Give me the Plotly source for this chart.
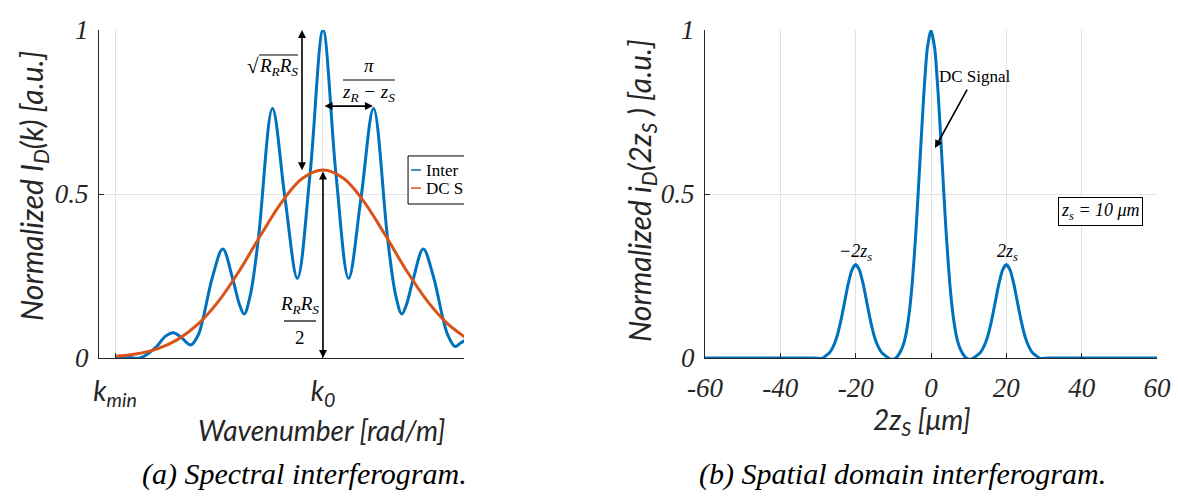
import plotly.graph_objects as go

# ---------------- data ----------------
# (a) spectral interferogram: k normalised so that k_min = 0, k_0 = 1
k_interf = [0.00, 0.06, 0.12, 0.20, 0.24, 0.28, 0.32, 0.364, 0.40, 0.423, 0.47, 0.518, 0.567,
            0.60, 0.621, 0.65, 0.689, 0.757, 0.817, 0.877, 0.938, 1.00, 1.062, 1.123, 1.183,
            1.243, 1.311, 1.35, 1.379, 1.40, 1.433, 1.482, 1.53, 1.577, 1.60, 1.635, 1.66, 1.70]
i_interf = [0.004, 0.003, 0.000, 0.035, 0.065, 0.077, 0.062, 0.040, 0.070, 0.120, 0.250, 0.332, 0.238,
            0.160, 0.134, 0.190, 0.362, 0.761, 0.489, 0.243, 0.563, 1.000, 0.563, 0.243, 0.489,
            0.761, 0.362, 0.190, 0.134, 0.160, 0.238, 0.332, 0.250, 0.120, 0.070, 0.035, 0.045, 0.060]

k_dc = [0.00, 0.10, 0.20, 0.30, 0.40, 0.50, 0.60, 0.70, 0.80, 0.90, 1.00,
        1.10, 1.20, 1.30, 1.40, 1.50, 1.60, 1.70]
i_dc = [0.005, 0.012, 0.027, 0.056, 0.104, 0.175, 0.268, 0.374, 0.474, 0.547, 0.573,
        0.547, 0.474, 0.374, 0.268, 0.175, 0.104, 0.056]

k_ticks = [0, 1]
k_ticktext = ["k<sub>min</sub>", "k<sub>0</sub>"]

# (b) spatial domain interferogram
z_pos = [-60, -40, -32, -31, -30, -29, -28, -27, -26, -25, -24, -23, -22, -21, -20, -19, -18, -17,
         -16, -15, -14, -13, -12, -11, -10, -9, -8, -7, -6, -5, -4, -3, -2, -1, 0,
         1, 2, 3, 4, 5, 6, 7, 8, 9, 10, 11, 12, 13, 14, 15, 16, 17, 18, 19, 20,
         21, 22, 23, 24, 25, 26, 27, 28, 29, 30, 31, 32, 40, 60]
i_spatial = [0.0, 0.0, 0.0, 0.0, -0.001, -0.001, 0.006, 0.015, 0.034, 0.064, 0.110, 0.167, 0.225, 0.268, 0.285,
             0.268, 0.225, 0.167, 0.110, 0.064, 0.034, 0.015, 0.006, -0.002, -0.004, 0.004, 0.022, 0.054,
             0.118, 0.226, 0.386, 0.586, 0.788, 0.942, 1.000,
             0.942, 0.788, 0.586, 0.386, 0.226, 0.118, 0.054, 0.022, 0.004, -0.004, -0.002, 0.006, 0.015,
             0.034, 0.064, 0.110, 0.167, 0.225, 0.268, 0.285, 0.268, 0.225, 0.167, 0.110, 0.064, 0.034,
             0.015, 0.006, -0.001, -0.001, 0.0, 0.0, 0.0, 0.0]
z_ticks = [-60, -40, -20, 0, 20, 40, 60]
z_ticktext = ["-60", "-40", "-20", "0", "20", "40", "60"]
y_ticks = [0, 0.5, 1]
y_ticktext = ["0", "0.5", "1"]

BLUE = "#0072BD"
ORANGE = "#D95319"
AX = "#262626"
GRID = "#e3e3e3"
SANS = "Lato"
SERIF = "Liberation Serif"

W, H = 1178, 497


def px(x):
    return x / W


def py(y):
    return 1 - y / H


# pixel -> data helpers for annotation placement only
def kx(p):
    return 1 + (p - 323) / 208


def vy(p):
    return (358 - p) / 328


fig = go.Figure()
fig.add_trace(go.Scatter(x=k_interf, y=i_interf, mode="lines", name="Interference",
                         line=dict(color=BLUE, width=3, shape="spline", smoothing=1.0),
                         xaxis="x", yaxis="y", showlegend=False))
fig.add_trace(go.Scatter(x=k_dc, y=i_dc, mode="lines", name="DC Signal",
                         line=dict(color=ORANGE, width=3, shape="spline", smoothing=1.0),
                         xaxis="x", yaxis="y", showlegend=False))
fig.add_trace(go.Scatter(x=z_pos, y=i_spatial, mode="lines", name="i_D",
                         line=dict(color=BLUE, width=3, shape="spline", smoothing=0.6),
                         xaxis="x2", yaxis="y2", showlegend=False))

ydom = [py(358), py(30)]
axis_common = dict(showline=True, linecolor=AX, linewidth=1.3, ticks="inside", ticklen=5,
                   tickcolor=AX, showgrid=True, gridcolor=GRID, gridwidth=1, zeroline=False,
                   mirror=False, automargin=False)

fig.update_layout(
    width=W, height=H, margin=dict(l=0, r=0, t=0, b=0, pad=0, autoexpand=False),
    paper_bgcolor="white", plot_bgcolor="white", showlegend=False,
    xaxis=dict(domain=[px(99), px(464)], range=[-0.077, 1.678], anchor="y",
               tickvals=k_ticks, ticktext=k_ticktext,
               tickfont=dict(family=SANS, size=28, color=AX, style="italic"),
               ticklabelstandoff=8, **axis_common),
    yaxis=dict(domain=ydom, range=[0, 1], anchor="x", tickvals=y_ticks, ticktext=y_ticktext,
               tickfont=dict(family=SERIF, size=27, color=AX, style="italic"),
               ticklabelstandoff=4, **axis_common),
    xaxis2=dict(domain=[px(705), px(1157)], range=[-60, 60], anchor="y2", tickvals=z_ticks,
                ticktext=z_ticktext,
                tickfont=dict(family=SERIF, size=27, color=AX, style="italic"),
                ticklabelstandoff=5, **axis_common),
    yaxis2=dict(domain=ydom, range=[0, 1], anchor="x2", tickvals=y_ticks, ticktext=y_ticktext,
                tickfont=dict(family=SERIF, size=27, color=AX, style="italic"),
                ticklabelstandoff=4, **axis_common),
)


def paper_text(text, x, y, font, angle=0):
    return dict(text=text, xref="paper", yref="paper", x=px(x), y=py(y), xanchor="center",
                yanchor="middle", textangle=angle, showarrow=False, font=font)


def data_text(text, x, y, xr, yr, font, xanchor="center", **kw):
    d = dict(text=text, x=x, y=y, xref=xr, yref=yr, xanchor=xanchor, yanchor="middle",
             showarrow=False, font=font)
    d.update(kw)
    return d


def arrow(x, y, ax, ay, xr, yr, both=True):
    return dict(x=x, y=y, ax=ax, ay=ay, xref=xr, yref=yr, axref=xr, ayref=yr, text="",
                showarrow=True, arrowhead=2, arrowside="end+start" if both else "end",
                arrowsize=1, arrowwidth=1.6, arrowcolor="black")


TITLE = dict(family=SANS, size=28, color=AX, style="italic")
YTITLE = dict(family=SANS, size=30, color=AX, style="italic")
CAP = dict(family=SERIF, size=30, color="black", style="italic")
MATH = dict(family=SERIF, size=19, color="black")
MATH_I = dict(family=SERIF, size=19, color="black", style="italic")
SMALL_I = dict(family=SERIF, size=18, color="black", style="italic")

ann = [
    # axis titles
    paper_text("Wavenumber [rad/m]", 322, 430, TITLE),
    paper_text("Normalized I<sub>D</sub>(k) [a.u.]", 33, 186, YTITLE, -90),
    paper_text("2z<sub>S</sub> [μm]", 922, 421, TITLE),
    paper_text("Normalized i<sub>D</sub>(2z<sub>S</sub> ) [a.u.]", 641, 191, YTITLE, -90),
    # captions
    paper_text("(a) Spectral interferogram.", 304, 474, CAP),
    paper_text("(b) Spatial domain interferogram.", 902, 474, CAP),
    # (a) arrows
    arrow(kx(302), 1.0, kx(302), 0.568, "x", "y"),
    arrow(1.0, 0.0, 1.0, 0.573, "x", "y"),
    arrow(1.24, 0.768, 1.0, 0.768, "x", "y"),
    # (a) labels
    data_text("√", kx(253), vy(66), "x", "y", dict(family=SERIF, size=21, color="black")),
    data_text("R<sub>R</sub>R<sub>S</sub>", kx(278), vy(67), "x", "y", MATH_I),
    data_text("π", kx(369), vy(66), "x", "y", MATH_I),
    data_text("z<sub>R</sub> − z<sub>S</sub>", kx(369), vy(93), "x", "y", MATH_I),
    data_text("R<sub>R</sub>R<sub>S</sub>", kx(300), vy(305), "x", "y", MATH_I),
    data_text("2", kx(300), vy(337), "x", "y", MATH),
    # legend text (legend is cut off at the right edge in the original)
    data_text("Inter", 1.486, 0.573, "x", "y", dict(family=SERIF, size=17, color="black"),
              xanchor="left"),
    data_text("DC S", 1.486, 0.518, "x", "y", dict(family=SERIF, size=17, color="black"),
              xanchor="left"),
    # (b) labels
    data_text("z<sub>R</sub> = 0", 0, 1.046, "x2", "y2", SMALL_I),
    data_text("DC Signal", 11.7, 0.857, "x2", "y2", dict(family=SERIF, size=17, color="black")),
    arrow(1.06, 0.64, 9.8, 0.823, "x2", "y2", both=False),
    data_text("−2z<sub>s</sub>", -20, 0.322, "x2", "y2", SMALL_I),
    data_text("2z<sub>s</sub>", 20.3, 0.322, "x2", "y2", SMALL_I),
    data_text("z<sub>s</sub> = 10 μm", 45.1, 0.448, "x2", "y2", SMALL_I,
              bordercolor="black", borderwidth=1, borderpad=2, bgcolor="white"),
]
fig.update_layout(annotations=ann)

shapes = [
    # square-root overline
    dict(type="line", xref="x", yref="y", x0=kx(259), x1=kx(298), y0=vy(55), y1=vy(55),
         line=dict(color="black", width=1.2)),
    # fraction bars
    dict(type="line", xref="x", yref="y", x0=kx(343), x1=kx(395), y0=vy(80), y1=vy(80),
         line=dict(color="black", width=1.2)),
    dict(type="line", xref="x", yref="y", x0=kx(284), x1=kx(316), y0=vy(321), y1=vy(321),
         line=dict(color="black", width=1.2)),
    # legend box (clipped by the plot area like the original)
    dict(type="rect", xref="x", yref="y", x0=1.409, x1=1.90, y0=0.4695, y1=0.616,
         line=dict(color="black", width=1), fillcolor="white", layer="above"),
    dict(type="line", xref="x", yref="y", x0=1.423, x1=1.471, y0=0.573, y1=0.573,
         line=dict(color=BLUE, width=1.5), layer="above"),
    dict(type="line", xref="x", yref="y", x0=1.423, x1=1.471, y0=0.518, y1=0.518,
         line=dict(color=ORANGE, width=1.5), layer="above"),
]
fig.update_layout(shapes=shapes)

fig.write_html("out.html")
